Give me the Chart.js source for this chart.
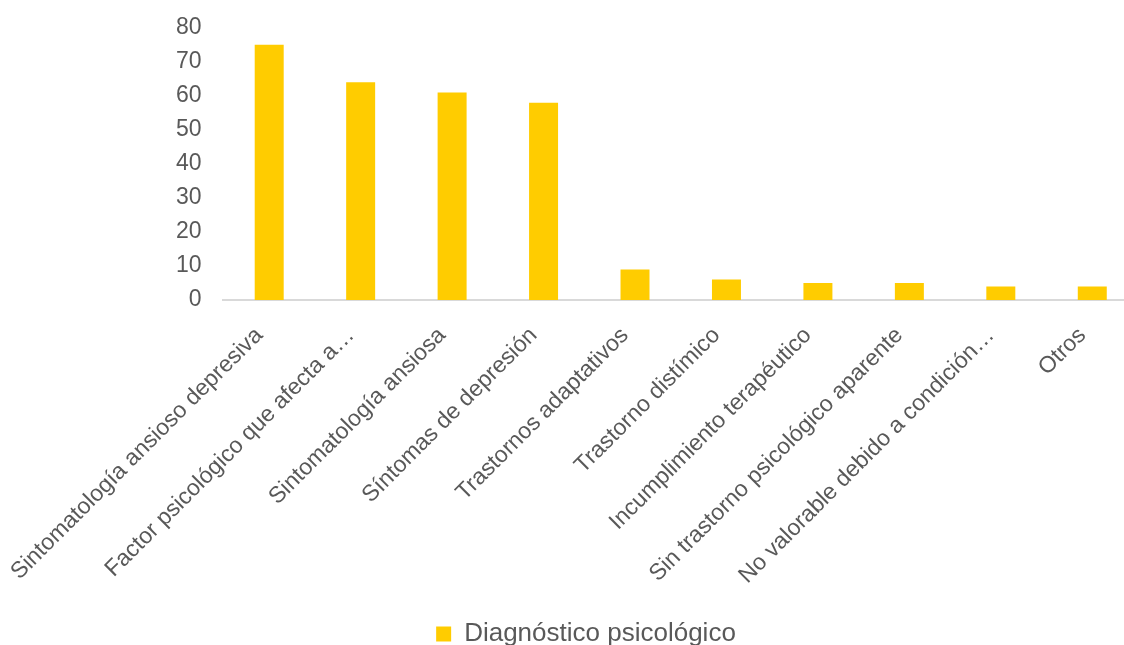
<!DOCTYPE html>
<html>
<head>
<meta charset="utf-8">
<script src="https://cdn.jsdelivr.net/npm/chart.js@4/dist/chart.umd.min.js"></script>
<style>
html,body{margin:0;padding:0;background:#fff;overflow:hidden;}
#wrap{width:1140px;height:645px;}
</style>
</head>
<body>
<div id="wrap"><canvas id="c" width="1140" height="645"></canvas></div>
<script>
const categories = [
  "Sintomatología ansioso depresiva",
  "Factor psicológico que afecta a…",
  "Sintomatología ansiosa",
  "Síntomas de depresión",
  "Trastornos adaptativos",
  "Trastorno distímico",
  "Incumplimiento terapéutico",
  "Sin trastorno psicológico aparente",
  "No valorable debido a condición…",
  "Otros"
];
const seriesName = "Diagnóstico psicológico";
const values = [75, 64, 61, 58, 9, 6, 5, 5, 4, 4];
const yTicks = [0, 10, 20, 30, 40, 50, 60, 70, 80];

const FONT = "'Liberation Sans', Arial, sans-serif";
const GREY = "#595959";

const legendShift = {
  id: 'legendShift',
  afterLayout(chart) {
    if (chart.legend) { chart.legend.left += 17; chart.legend.right += 17; }
  }
};

new Chart(document.getElementById('c'), {
  type: 'bar',
  data: {
    labels: categories,
    datasets: [{
      label: seriesName,
      data: values,
      backgroundColor: '#FFCC00',
      borderWidth: 0,
      barPercentage: 0.317,
      categoryPercentage: 1
    }]
  },
  plugins: [legendShift],
  options: {
    responsive: false,
    animation: false,
    devicePixelRatio: 1,
    layout: { padding: { top: 6, right: 2, left: 0, bottom: -12 } },
    plugins: {
      tooltip: { enabled: false },
      legend: {
        position: 'bottom',
        labels: {
          boxWidth: 15, boxHeight: 15,
          color: GREY,
          font: { family: FONT, size: 26 },
          padding: 2
        }
      }
    },
    scales: {
      x: {
        afterFit: s => { s.height = 319; },
        grid: { display: false },
        border: { display: true, color: '#d9d9d9', width: 2 },
        ticks: {
          color: GREY,
          font: { family: FONT, size: 23 },
          maxRotation: 45, minRotation: 45,
          autoSkip: false,
          padding: 14,
          labelOffset: -10
        }
      },
      y: {
        min: 0, max: 80,
        afterBuildTicks: s => { s.ticks = yTicks.map(v => ({ value: v })); },
        afterFit: s => { s.width = 222; },
        grid: { display: false },
        border: { display: false },
        ticks: {
          color: GREY,
          font: { family: FONT, size: 23 },
          padding: 14
        }
      }
    }
  }
});
</script>
</body>
</html>
